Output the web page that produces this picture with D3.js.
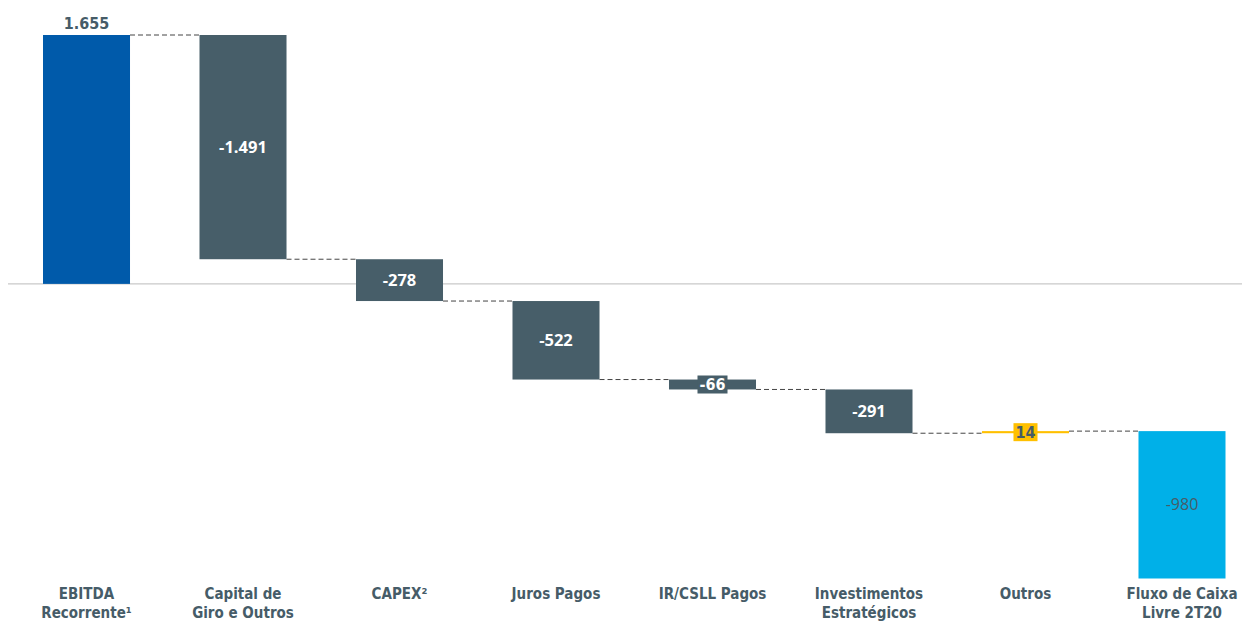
<!DOCTYPE html>
<html>
<head>
<meta charset="utf-8">
<script src="https://cdn.jsdelivr.net/npm/d3@7"></script>
<style>
  body { margin: 0; background: #fff; }
  svg { display: block; }
</style>
</head>
<body>
<svg id="chart" width="1242" height="621"></svg>
<script>
// categories (two lines each) and the step values of the waterfall
var categories = [
	["EBITDA", "Recorrente\u00b9"],
	["Capital de", "Giro e Outros"],
	["CAPEX\u00b2"],
	["Juros Pagos"],
	["IR/CSLL Pagos"],
	["Investimentos", "Estrat\u00e9gicos"],
	["Outros"],
	["Fluxo de Caixa", "Livre 2T20"]
]
var values = [1655, -1491, -278, -522, -66, -291, 14, -980]
var kinds = ["start", "delta", "delta", "delta", "delta", "delta", "delta", "total"]

var width = 1242
var height = 621
var textColor = "#465c68"
var fontFamily = '"DejaVu Sans Condensed", "DejaVu Sans", sans-serif'

// brazilian number format: 1.655, with a plain hyphen as minus
var locale = d3.formatLocale({decimal: ",", thousands: ".", grouping: [3], currency: ["R$", ""], minus: "-"})
var fmt = locale.format(",d")

// running totals -> start / end of each bar
var run = 0
var dat = values.map(function(v, i) {
	var start = kinds[i] == "start" ? 0 : run
	var end = start + v
	run = end
	return {index: i, value: v, start: start, end: end, kind: kinds[i], cat: categories[i]}
})

var svg = d3.select("#chart")
	.style("font-family", fontFamily)

var x = d3.scaleBand()
	.domain(dat.map(function(d) { return d.index }))
	.range([43, 1225.5])
	.paddingInner(0.444)
	.paddingOuter(0)

var lo = d3.min(dat, function(d) { return Math.min(d.start, d.end) })
var hi = d3.max(dat, function(d) { return Math.max(d.start, d.end) })
var y = d3.scaleLinear()
	.domain([lo, hi])
	.range([578.5, 35])

// zero line
svg.append("line")
	.attr("x1", 8).attr("x2", width)
	.attr("y1", y(0)).attr("y2", y(0))
	.attr("stroke", "#c9c9c9")
	.attr("stroke-width", 1.3)

function barColor(d) {
	if (d.kind == "start") return "#005aaa"
	if (d.kind == "total") return "#00b0e8"
	if (d.value > 0) return "#ffc000"
	return "#475e69"
}

// connectors between bars
svg.selectAll("line.conn")
	.data(dat.slice(0, dat.length - 1))
	.enter()
	.append("line")
	.attr("class", "conn")
	.attr("x1", function(d) { return x(d.index) + x.bandwidth() })
	.attr("x2", function(d) { return x(d.index + 1) })
	.attr("y1", function(d) { return y(d.end) })
	.attr("y2", function(d) { return y(d.end) })
	.attr("stroke", "#444")
	.attr("stroke-width", 1)
	.attr("stroke-dasharray", "5,3")

// bars
svg.selectAll("rect.bar")
	.data(dat)
	.enter()
	.append("rect")
	.attr("class", "bar")
	.attr("x", function(d) { return x(d.index) })
	.attr("y", function(d) { return y(Math.max(d.start, d.end)) })
	.attr("width", x.bandwidth())
	.attr("height", function(d) { return Math.max(2, Math.abs(y(d.start) - y(d.end))) })
	.attr("fill", barColor)

// value labels
dat.forEach(function(d) {
	var cx = x(d.index) + x.bandwidth() / 2
	var top = y(Math.max(d.start, d.end))
	var bot = y(Math.min(d.start, d.end))
	var mid = (top + bot) / 2
	var h = bot - top
	var label = fmt(d.value)

	if (d.kind == "start") {
		svg.append("text")
			.attr("x", cx).attr("y", top - 6)
			.attr("text-anchor", "middle")
			.attr("font-weight", "bold")
			.attr("font-size", 16)
			.attr("fill", textColor)
			.text(label)
	} else if (d.kind == "total") {
		svg.append("text")
			.attr("x", cx).attr("y", mid)
			.attr("dy", "0.35em")
			.attr("text-anchor", "middle")
			.attr("font-family", '"Open Sans", sans-serif')
			.attr("font-size", 16)
			.attr("fill", textColor)
			.text(label)
	} else if (h < 20) {
		// thin bar: label sits on a small box of the bar colour
		var g = svg.append("g")
		var t = g.append("text")
			.attr("x", cx).attr("y", mid)
			.attr("dy", "0.35em")
			.attr("text-anchor", "middle")
			.attr("font-weight", "bold")
			.attr("font-size", 16)
			.attr("fill", d.value > 0 ? textColor : "#fff")
			.text(label)
		var bb = t.node().getBBox()
		g.insert("rect", "text")
			.attr("x", bb.x - 2).attr("y", mid - 9)
			.attr("width", bb.width + 4).attr("height", 18)
			.attr("fill", barColor(d))
	} else {
		svg.append("text")
			.attr("x", cx).attr("y", mid)
			.attr("dy", "0.35em")
			.attr("text-anchor", "middle")
			.attr("font-family", '"Open Sans", sans-serif')
			.attr("font-weight", "bold")
			.attr("font-size", 16.5)
			.attr("fill", "#fff")
			.text(label)
	}
})

// category labels
var cats = svg.selectAll("text.cat")
	.data(dat)
	.enter()
	.append("text")
	.attr("class", "cat")
	.attr("text-anchor", "middle")
	.attr("font-weight", "bold")
	.attr("font-size", 15)
	.attr("fill", textColor)
	.attr("transform", function(d) { return "translate(" + (x(d.index) + x.bandwidth() / 2) + ",599)" })

cats.selectAll("tspan")
	.data(function(d) { return d.cat })
	.enter()
	.append("tspan")
	.attr("x", 0)
	.attr("y", function(d, i) { return i * 19 })
	.text(function(d) { return d })
</script>
</body>
</html>
